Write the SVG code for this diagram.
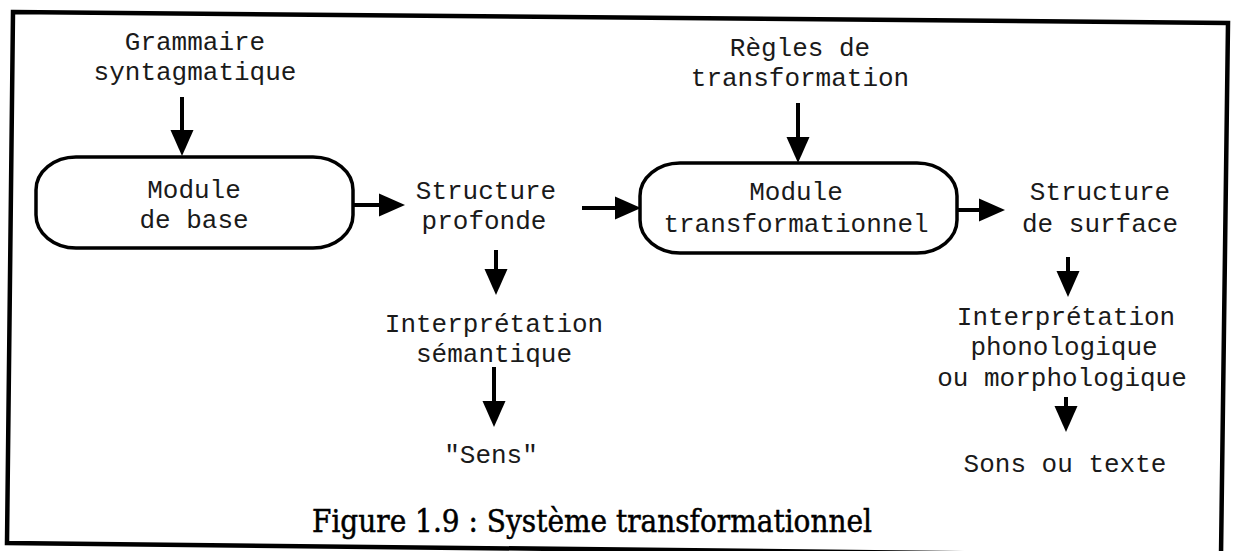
<svg xmlns="http://www.w3.org/2000/svg" width="1237" height="551" viewBox="0 0 1237 551">
  <defs>
    <style>
      .lbl { font-family: "Liberation Mono", "Courier New", monospace; font-size: 26px; fill: #1a1a1a; text-anchor: middle; }
      .cap { font-family: "DejaVu Serif", "Liberation Serif", serif; font-size: 31px; fill: #000; stroke: #000; stroke-width: 0.5; text-anchor: middle; }
      .box { fill: none; stroke: #000; stroke-width: 3.5; }
      .frame { fill: none; stroke: #000; stroke-width: 4.5; stroke-linejoin: miter; }
      .conn { fill: none; stroke: #000; stroke-width: 4; marker-end: url(#head); }
    </style>
    <!-- solid arrowhead; tip sits 8px beyond the line end -->
    <marker id="head" markerUnits="userSpaceOnUse" markerWidth="26" markerHeight="23" refX="18" refY="11.5" orient="auto" overflow="visible">
      <path d="M0,0 L26,11.5 L0,23 Z" fill="#000"/>
    </marker>
  </defs>

  <rect width="1237" height="551" fill="#fff"/>

  <!-- outer frame, slightly skewed like the printed page -->
  <polygon class="frame" points="13,12 1228,23 1221,556 7,543"/>

  <g id="connectors">
    <line class="conn" x1="182" y1="97" x2="182" y2="148"/>
    <line class="conn" x1="353" y1="205" x2="397" y2="205"/>
    <line class="conn" x1="582" y1="208" x2="633" y2="208"/>
    <line class="conn" x1="798" y1="103" x2="798" y2="155"/>
    <line class="conn" x1="957" y1="210" x2="997" y2="210"/>
    <line class="conn" x1="496" y1="250" x2="496" y2="287"/>
    <line class="conn" x1="494" y1="367" x2="494" y2="419"/>
    <line class="conn" x1="1068" y1="257" x2="1068" y2="289"/>
    <line class="conn" x1="1066" y1="397" x2="1066" y2="424"/>
  </g>

  <g id="grammaire">
    <text class="lbl" x="195" y="50">Grammaire</text>
    <text class="lbl" x="195" y="80">syntagmatique</text>
  </g>

  <g id="module-base">
    <rect class="box" x="36" y="157" width="317" height="91" rx="40" ry="33"/>
    <text class="lbl" x="194" y="198">Module</text>
    <text class="lbl" x="194" y="228">de base</text>
  </g>

  <g id="structure-profonde">
    <text class="lbl" x="486" y="199">Structure</text>
    <text class="lbl" x="484" y="229">profonde</text>
  </g>

  <g id="regles">
    <text class="lbl" x="800" y="56">Règles de</text>
    <text class="lbl" x="800" y="86">transformation</text>
  </g>

  <g id="module-transformationnel">
    <rect class="box" x="640" y="163" width="317" height="90" rx="40" ry="33"/>
    <text class="lbl" x="796" y="200">Module</text>
    <text class="lbl" x="796" y="232">transformationnel</text>
  </g>

  <g id="structure-surface">
    <text class="lbl" x="1100" y="200">Structure</text>
    <text class="lbl" x="1100" y="232">de surface</text>
  </g>

  <g id="interpretation-semantique">
    <text class="lbl" x="494" y="332">Interprétation</text>
    <text class="lbl" x="494" y="362">sémantique</text>
  </g>

  <g id="sens">
    <text class="lbl" x="491" y="463">"Sens"</text>
  </g>

  <g id="interpretation-phonologique">
    <text class="lbl" x="1066" y="325">Interprétation</text>
    <text class="lbl" x="1064" y="355">phonologique</text>
    <text class="lbl" x="1062" y="386">ou morphologique</text>
  </g>

  <g id="sons">
    <text class="lbl" x="1065" y="472">Sons ou texte</text>
  </g>

  <g id="caption">
    <text class="cap" x="592" y="532" textLength="560" lengthAdjust="spacingAndGlyphs">Figure 1.9 : Système transformationnel</text>
  </g>
</svg>
